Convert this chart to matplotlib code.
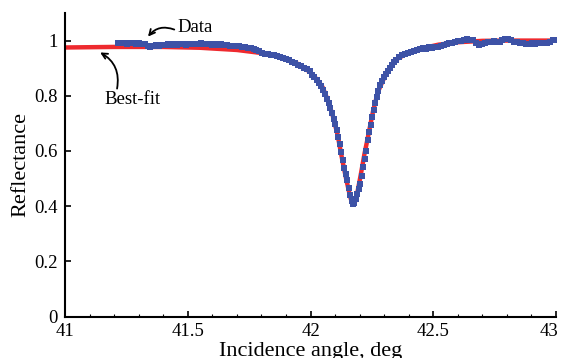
import numpy as np
import matplotlib.pyplot as plt
import matplotlib.transforms as mtransforms
from matplotlib.ticker import MultipleLocator

# Curva de mejor ajuste
fit_x = [41.00, 41.20, 41.40, 41.55, 41.70, 41.80, 41.89, 41.95, 42.00, 42.03,
         42.05, 42.07, 42.09, 42.11, 42.13, 42.145, 42.16, 42.167, 42.174, 42.181,
         42.19, 42.205, 42.22, 42.235, 42.255, 42.275, 42.31, 42.35, 42.40, 42.45,
         42.52, 42.60, 42.70, 42.80, 43.00]
fit_y = [0.975, 0.977, 0.977, 0.974, 0.966, 0.955, 0.937, 0.915, 0.885, 0.855,
         0.830, 0.785, 0.730, 0.660, 0.565, 0.500, 0.440, 0.418, 0.408, 0.415,
         0.445, 0.515, 0.590, 0.655, 0.745, 0.815, 0.885, 0.932, 0.957, 0.971,
         0.985, 0.994, 0.999, 1.000, 1.000]

# Datos medidos
data_x = [41.216, 41.228, 41.240, 41.252, 41.264, 41.276, 41.288, 41.300, 41.312, 41.324,
          41.336, 41.348, 41.360, 41.372, 41.384, 41.396, 41.408, 41.420, 41.432, 41.444,
          41.456, 41.468, 41.480, 41.492, 41.504, 41.516, 41.528, 41.540, 41.552, 41.564,
          41.576, 41.588, 41.600, 41.612, 41.624, 41.636, 41.648, 41.660, 41.672, 41.684,
          41.696, 41.708, 41.720, 41.732, 41.744, 41.756, 41.768, 41.780, 41.792, 41.804,
          41.816, 41.828, 41.840, 41.852, 41.864, 41.876, 41.888, 41.900, 41.912, 41.924,
          41.936, 41.948, 41.960, 41.972, 41.984, 41.996, 42.006, 42.016, 42.026, 42.036,
          42.044, 42.052, 42.060, 42.067, 42.074, 42.081, 42.088, 42.095, 42.101, 42.107,
          42.113, 42.119, 42.125, 42.131, 42.137, 42.143, 42.149, 42.155, 42.161, 42.167,
          42.173, 42.179, 42.185, 42.191, 42.197, 42.203, 42.209, 42.215, 42.221, 42.227,
          42.233, 42.239, 42.245, 42.251, 42.257, 42.263, 42.269, 42.276, 42.283, 42.290,
          42.298, 42.306, 42.314, 42.323, 42.332, 42.341, 42.350, 42.362, 42.374, 42.386,
          42.398, 42.410, 42.422, 42.434, 42.446, 42.458, 42.470, 42.482, 42.494, 42.506,
          42.518, 42.530, 42.542, 42.554, 42.566, 42.578, 42.590, 42.602, 42.614, 42.626,
          42.638, 42.650, 42.662, 42.674, 42.686, 42.698, 42.710, 42.722, 42.734, 42.746,
          42.758, 42.770, 42.782, 42.794, 42.806, 42.818, 42.830, 42.842, 42.854, 42.866,
          42.878, 42.890, 42.902, 42.914, 42.926, 42.938, 42.950, 42.962, 42.974, 42.986,
          42.998]
data_y = [0.993, 0.991, 0.992, 0.989, 0.990, 0.992, 0.989, 0.991, 0.988, 0.986,
          0.979, 0.976, 0.979, 0.983, 0.981, 0.984, 0.983, 0.986, 0.985, 0.987,
          0.984, 0.988, 0.987, 0.985, 0.988, 0.986, 0.989, 0.987, 0.990, 0.987,
          0.986, 0.988, 0.985, 0.987, 0.984, 0.986, 0.983, 0.985, 0.981, 0.982,
          0.979, 0.980, 0.976, 0.977, 0.973, 0.972, 0.968, 0.965, 0.961, 0.956,
          0.953, 0.951, 0.948, 0.946, 0.943, 0.940, 0.937, 0.933, 0.928, 0.922,
          0.917, 0.912, 0.907, 0.902, 0.896, 0.888, 0.877, 0.868, 0.857, 0.848,
          0.836, 0.822, 0.806, 0.790, 0.773, 0.754, 0.737, 0.716, 0.697, 0.676,
          0.650, 0.625, 0.598, 0.568, 0.540, 0.515, 0.493, 0.465, 0.440, 0.420,
          0.408, 0.411, 0.425, 0.445, 0.463, 0.482, 0.510, 0.541, 0.572, 0.600,
          0.640, 0.668, 0.695, 0.722, 0.750, 0.772, 0.795, 0.818, 0.838, 0.855,
          0.868, 0.880, 0.890, 0.901, 0.913, 0.924, 0.930, 0.939, 0.946, 0.951,
          0.955, 0.960, 0.962, 0.967, 0.969, 0.973, 0.971, 0.976, 0.974, 0.977,
          0.976, 0.980, 0.985, 0.987, 0.990, 0.993, 0.995, 0.997, 0.999, 1.002,
          1.004, 1.003, 1.001, 0.993, 0.984, 0.987, 0.991, 0.994, 0.995, 0.997,
          0.996, 0.995, 1.001, 1.004, 1.005, 1.002, 0.996, 0.994, 0.992, 0.991,
          0.989, 0.988, 0.990, 0.989, 0.991, 0.990, 0.992, 0.993, 0.996, 1.001,
          1.003]

plt.rcParams['font.family'] = ['Liberation Serif', 'DejaVu Serif']

fig = plt.figure(figsize=(5.62, 3.58), dpi=100)
ax = fig.add_axes([0.1157, 0.1159, 0.8736, 0.8478])

ax.plot(fit_x, fit_y, color='#ee2a2f', lw=3.2, zorder=2)
ax.plot(data_x, data_y, linestyle='none', marker='s', ms=3.8, color='#3d52a6',
        markeredgewidth=0, zorder=3)

ax.set_xlim(41, 43)
ax.set_ylim(0, 1.1)
ax.set_yticks([0, 0.2, 0.4, 0.6, 0.8, 1.0])
ax.set_yticklabels(['0', '0.2', '0.4', '0.6', '0.8', '1'])
ax.set_xticks([41, 41.5, 42, 42.5, 43])
ax.set_xticklabels(['41', '41.5', '42', '42.5', '43'])
ax.xaxis.set_minor_locator(MultipleLocator(0.1))

for s in ['top', 'right']:
    ax.spines[s].set_visible(False)
for s in ['left', 'bottom']:
    ax.spines[s].set_linewidth(1.5)

ax.tick_params(axis='both', which='major', direction='in', length=4, width=1.2,
               labelsize=13.5, pad=5)
ax.tick_params(axis='x', which='minor', direction='in', length=2, width=0.8)

# correr un poco la ultima etiqueta para que no se corte
last = ax.get_xticklabels()[-1]
last.set_transform(last.get_transform() + mtransforms.ScaledTranslation(-5 / 72, 0, fig.dpi_scale_trans))

ax.set_xlabel('Incidence angle, deg', fontsize=16, labelpad=1)
ax.set_ylabel('Reflectance', fontsize=16, labelpad=3)

# Anotaciones
ax.annotate('', xy=(41.338, 1.0145), xytext=(41.445, 1.040),
            arrowprops=dict(arrowstyle='->', color='black', lw=1.3,
                            connectionstyle='arc3,rad=0.35', shrinkA=0, shrinkB=0))
ax.text(41.456, 1.047, 'Data', fontsize=13.5, ha='left', va='center')

ax.annotate('', xy=(41.143, 0.957), xytext=(41.212, 0.826),
            arrowprops=dict(arrowstyle='->', color='black', lw=1.3,
                            connectionstyle='arc3,rad=0.35', shrinkA=0, shrinkB=0))
ax.text(41.273, 0.787, 'Best-fit', fontsize=13.5, ha='center', va='center')

fig.savefig('out.png', dpi=100)
